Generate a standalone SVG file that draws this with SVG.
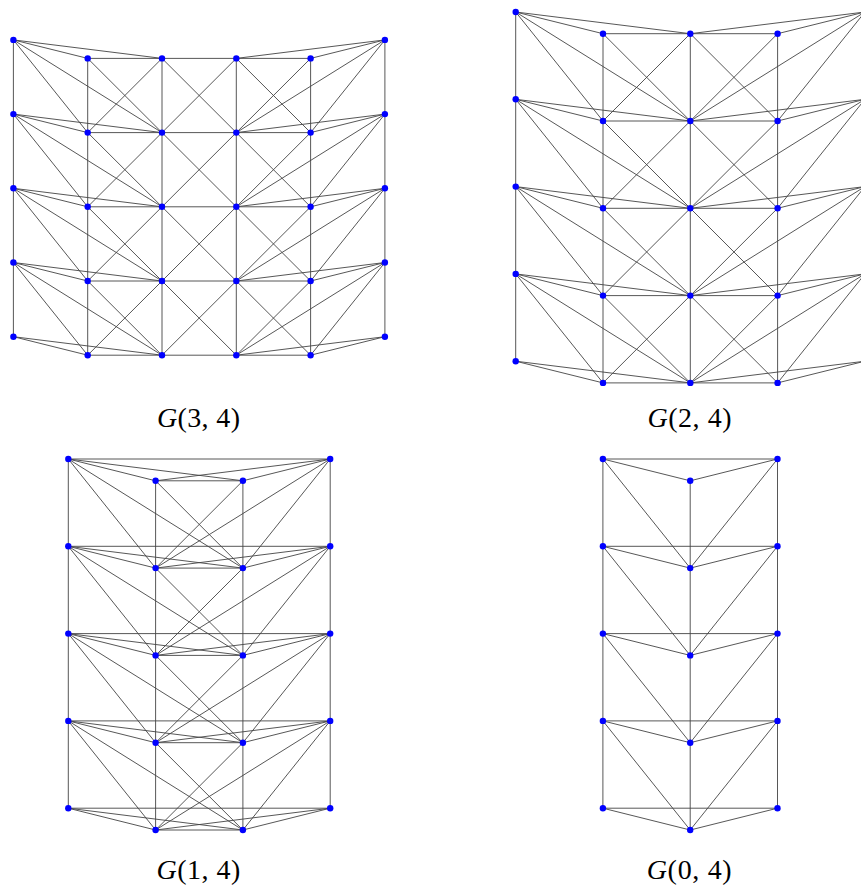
<svg xmlns="http://www.w3.org/2000/svg" width="861" height="891" viewBox="0 0 861 891">
<style>
.e{fill:none;stroke:#444;stroke-width:0.9}
.n circle{fill:#0000ff}
.lbl{font-family:"Liberation Serif","DejaVu Serif",serif;font-size:28px;fill:#000}
.it{font-style:italic}
</style>
<rect width="861" height="891" fill="#fff"/>
<g id="connectors">
<!-- G(3,4) -->
<path class="e" d="M13.4 39.9V336.7M384.9 39.9V336.7
M87.7 58.4V355.2M162 58.4V355.2M236.3 58.4V355.2M310.6 58.4V355.2
M87.7 58.4H310.6M87.7 132.6H310.6M87.7 206.8H310.6M87.7 281H310.6M87.7 355.2H310.6
M87.7 58.4L162 132.6M162 58.4L236.3 132.6M236.3 58.4L310.6 132.6
M87.7 132.6L162 206.8M162 132.6L236.3 206.8M236.3 132.6L310.6 206.8
M87.7 206.8L162 281M162 206.8L236.3 281M236.3 206.8L310.6 281
M87.7 281L162 355.2M162 281L236.3 355.2M236.3 281L310.6 355.2
M162 58.4L87.7 132.6M236.3 58.4L162 132.6M310.6 58.4L236.3 132.6
M162 132.6L87.7 206.8M236.3 132.6L162 206.8M310.6 132.6L236.3 206.8
M162 206.8L87.7 281M236.3 206.8L162 281M310.6 206.8L236.3 281
M162 281L87.7 355.2M236.3 281L162 355.2M310.6 281L236.3 355.2
M13.4 39.9L87.7 58.4M13.4 39.9L162 58.4M13.4 39.9L87.7 132.6M13.4 39.9L162 132.6
M13.4 114.1L87.7 132.6M13.4 114.1L162 132.6M13.4 114.1L87.7 206.8M13.4 114.1L162 206.8
M13.4 188.3L87.7 206.8M13.4 188.3L162 206.8M13.4 188.3L87.7 281M13.4 188.3L162 281
M13.4 262.5L87.7 281M13.4 262.5L162 281M13.4 262.5L87.7 355.2M13.4 262.5L162 355.2
M13.4 336.7L87.7 355.2M13.4 336.7L162 355.2
M384.9 39.9L310.6 58.4M384.9 39.9L236.3 58.4M384.9 39.9L310.6 132.6M384.9 39.9L236.3 132.6
M384.9 114.1L310.6 132.6M384.9 114.1L236.3 132.6M384.9 114.1L310.6 206.8M384.9 114.1L236.3 206.8
M384.9 188.3L310.6 206.8M384.9 188.3L236.3 206.8M384.9 188.3L310.6 281M384.9 188.3L236.3 281
M384.9 262.5L310.6 281M384.9 262.5L236.3 281M384.9 262.5L310.6 355.2M384.9 262.5L236.3 355.2
M384.9 336.7L310.6 355.2M384.9 336.7L236.3 355.2"/>
<!-- G(2,4) -->
<path class="e" d="M515.7 12V361.2M864.9 12V361.2
M603 33.7V382.9M690.3 33.7V382.9M777.6 33.7V382.9
M603 33.7H777.6M603 121H777.6M603 208.3H777.6M603 295.6H777.6M603 382.9H777.6
M603 33.7L690.3 121M690.3 33.7L777.6 121M690.3 33.7L603 121M777.6 33.7L690.3 121
M603 121L690.3 208.3M690.3 121L777.6 208.3M690.3 121L603 208.3M777.6 121L690.3 208.3
M603 208.3L690.3 295.6M690.3 208.3L777.6 295.6M690.3 208.3L603 295.6M777.6 208.3L690.3 295.6
M603 295.6L690.3 382.9M690.3 295.6L777.6 382.9M690.3 295.6L603 382.9M777.6 295.6L690.3 382.9
M515.7 12L603 33.7M515.7 12L690.3 33.7M515.7 12L603 121M515.7 12L690.3 121
M515.7 99.3L603 121M515.7 99.3L690.3 121M515.7 99.3L603 208.3M515.7 99.3L690.3 208.3
M515.7 186.6L603 208.3M515.7 186.6L690.3 208.3M515.7 186.6L603 295.6M515.7 186.6L690.3 295.6
M515.7 273.9L603 295.6M515.7 273.9L690.3 295.6M515.7 273.9L603 382.9M515.7 273.9L690.3 382.9
M515.7 361.2L603 382.9M515.7 361.2L690.3 382.9
M864.9 12L777.6 33.7M864.9 12L690.3 33.7M864.9 12L777.6 121M864.9 12L690.3 121
M864.9 99.3L777.6 121M864.9 99.3L690.3 121M864.9 99.3L777.6 208.3M864.9 99.3L690.3 208.3
M864.9 186.6L777.6 208.3M864.9 186.6L690.3 208.3M864.9 186.6L777.6 295.6M864.9 186.6L690.3 295.6
M864.9 273.9L777.6 295.6M864.9 273.9L690.3 295.6M864.9 273.9L777.6 382.9M864.9 273.9L690.3 382.9
M864.9 361.2L777.6 382.9M864.9 361.2L690.3 382.9"/>
<!-- G(1,4) -->
<path class="e" d="M68.3 459V808.2M330.2 459V808.2
M68.3 459H330.2M68.3 546.3H330.2M68.3 633.6H330.2M68.3 720.9H330.2M68.3 808.2H330.2
M155.6 480.8V830M242.9 480.8V830
M155.6 480.8H242.9M155.6 568.1H242.9M155.6 655.4H242.9M155.6 742.7H242.9M155.6 830H242.9
M155.6 480.8L242.9 568.1M242.9 480.8L155.6 568.1
M155.6 568.1L242.9 655.4M242.9 568.1L155.6 655.4
M155.6 655.4L242.9 742.7M242.9 655.4L155.6 742.7
M155.6 742.7L242.9 830M242.9 742.7L155.6 830
M68.3 459L155.6 480.8M68.3 459L242.9 480.8M68.3 459L155.6 568.1M68.3 459L242.9 568.1
M68.3 546.3L155.6 568.1M68.3 546.3L242.9 568.1M68.3 546.3L155.6 655.4M68.3 546.3L242.9 655.4
M68.3 633.6L155.6 655.4M68.3 633.6L242.9 655.4M68.3 633.6L155.6 742.7M68.3 633.6L242.9 742.7
M68.3 720.9L155.6 742.7M68.3 720.9L242.9 742.7M68.3 720.9L155.6 830M68.3 720.9L242.9 830
M68.3 808.2L155.6 830M68.3 808.2L242.9 830
M330.2 459L242.9 480.8M330.2 459L155.6 480.8M330.2 459L242.9 568.1M330.2 459L155.6 568.1
M330.2 546.3L242.9 568.1M330.2 546.3L155.6 568.1M330.2 546.3L242.9 655.4M330.2 546.3L155.6 655.4
M330.2 633.6L242.9 655.4M330.2 633.6L155.6 655.4M330.2 633.6L242.9 742.7M330.2 633.6L155.6 742.7
M330.2 720.9L242.9 742.7M330.2 720.9L155.6 742.7M330.2 720.9L242.9 830M330.2 720.9L155.6 830
M330.2 808.2L242.9 830M330.2 808.2L155.6 830"/>
<!-- G(0,4) -->
<path class="e" d="M602.9 459V808.2M777.5 459V808.2M690.2 480.8V830
M602.9 459H777.5M602.9 546.3H777.5M602.9 633.6H777.5M602.9 720.9H777.5M602.9 808.2H777.5
M602.9 459L690.2 480.8M602.9 459L690.2 568.1
M602.9 546.3L690.2 568.1M602.9 546.3L690.2 655.4
M602.9 633.6L690.2 655.4M602.9 633.6L690.2 742.7
M602.9 720.9L690.2 742.7M602.9 720.9L690.2 830
M602.9 808.2L690.2 830
M777.5 459L690.2 480.8M777.5 459L690.2 568.1
M777.5 546.3L690.2 568.1M777.5 546.3L690.2 655.4
M777.5 633.6L690.2 655.4M777.5 633.6L690.2 742.7
M777.5 720.9L690.2 742.7M777.5 720.9L690.2 830
M777.5 808.2L690.2 830"/>
</g>
<g id="nodes-G34" class="n">
<g id="g34-L0"><circle cx="13.4" cy="39.9" r="3.2"/></g>
<g id="g34-L1"><circle cx="13.4" cy="114.1" r="3.2"/></g>
<g id="g34-L2"><circle cx="13.4" cy="188.3" r="3.2"/></g>
<g id="g34-L3"><circle cx="13.4" cy="262.5" r="3.2"/></g>
<g id="g34-L4"><circle cx="13.4" cy="336.7" r="3.2"/></g>
<g id="g34-R0"><circle cx="384.9" cy="39.9" r="3.2"/></g>
<g id="g34-R1"><circle cx="384.9" cy="114.1" r="3.2"/></g>
<g id="g34-R2"><circle cx="384.9" cy="188.3" r="3.2"/></g>
<g id="g34-R3"><circle cx="384.9" cy="262.5" r="3.2"/></g>
<g id="g34-R4"><circle cx="384.9" cy="336.7" r="3.2"/></g>
<g id="g34-c1r0"><circle cx="87.7" cy="58.4" r="3.2"/></g>
<g id="g34-c1r1"><circle cx="87.7" cy="132.6" r="3.2"/></g>
<g id="g34-c1r2"><circle cx="87.7" cy="206.8" r="3.2"/></g>
<g id="g34-c1r3"><circle cx="87.7" cy="281" r="3.2"/></g>
<g id="g34-c1r4"><circle cx="87.7" cy="355.2" r="3.2"/></g>
<g id="g34-c2r0"><circle cx="162" cy="58.4" r="3.2"/></g>
<g id="g34-c2r1"><circle cx="162" cy="132.6" r="3.2"/></g>
<g id="g34-c2r2"><circle cx="162" cy="206.8" r="3.2"/></g>
<g id="g34-c2r3"><circle cx="162" cy="281" r="3.2"/></g>
<g id="g34-c2r4"><circle cx="162" cy="355.2" r="3.2"/></g>
<g id="g34-c3r0"><circle cx="236.3" cy="58.4" r="3.2"/></g>
<g id="g34-c3r1"><circle cx="236.3" cy="132.6" r="3.2"/></g>
<g id="g34-c3r2"><circle cx="236.3" cy="206.8" r="3.2"/></g>
<g id="g34-c3r3"><circle cx="236.3" cy="281" r="3.2"/></g>
<g id="g34-c3r4"><circle cx="236.3" cy="355.2" r="3.2"/></g>
<g id="g34-c4r0"><circle cx="310.6" cy="58.4" r="3.2"/></g>
<g id="g34-c4r1"><circle cx="310.6" cy="132.6" r="3.2"/></g>
<g id="g34-c4r2"><circle cx="310.6" cy="206.8" r="3.2"/></g>
<g id="g34-c4r3"><circle cx="310.6" cy="281" r="3.2"/></g>
<g id="g34-c4r4"><circle cx="310.6" cy="355.2" r="3.2"/></g>
</g>
<g id="nodes-G24" class="n">
<g id="g24-L0"><circle cx="515.7" cy="12" r="3.2"/></g>
<g id="g24-L1"><circle cx="515.7" cy="99.3" r="3.2"/></g>
<g id="g24-L2"><circle cx="515.7" cy="186.6" r="3.2"/></g>
<g id="g24-L3"><circle cx="515.7" cy="273.9" r="3.2"/></g>
<g id="g24-L4"><circle cx="515.7" cy="361.2" r="3.2"/></g>
<g id="g24-R0"><circle cx="864.9" cy="12" r="3.2"/></g>
<g id="g24-R1"><circle cx="864.9" cy="99.3" r="3.2"/></g>
<g id="g24-R2"><circle cx="864.9" cy="186.6" r="3.2"/></g>
<g id="g24-R3"><circle cx="864.9" cy="273.9" r="3.2"/></g>
<g id="g24-R4"><circle cx="864.9" cy="361.2" r="3.2"/></g>
<g id="g24-c1r0"><circle cx="603" cy="33.7" r="3.2"/></g>
<g id="g24-c1r1"><circle cx="603" cy="121" r="3.2"/></g>
<g id="g24-c1r2"><circle cx="603" cy="208.3" r="3.2"/></g>
<g id="g24-c1r3"><circle cx="603" cy="295.6" r="3.2"/></g>
<g id="g24-c1r4"><circle cx="603" cy="382.9" r="3.2"/></g>
<g id="g24-c2r0"><circle cx="690.3" cy="33.7" r="3.2"/></g>
<g id="g24-c2r1"><circle cx="690.3" cy="121" r="3.2"/></g>
<g id="g24-c2r2"><circle cx="690.3" cy="208.3" r="3.2"/></g>
<g id="g24-c2r3"><circle cx="690.3" cy="295.6" r="3.2"/></g>
<g id="g24-c2r4"><circle cx="690.3" cy="382.9" r="3.2"/></g>
<g id="g24-c3r0"><circle cx="777.6" cy="33.7" r="3.2"/></g>
<g id="g24-c3r1"><circle cx="777.6" cy="121" r="3.2"/></g>
<g id="g24-c3r2"><circle cx="777.6" cy="208.3" r="3.2"/></g>
<g id="g24-c3r3"><circle cx="777.6" cy="295.6" r="3.2"/></g>
<g id="g24-c3r4"><circle cx="777.6" cy="382.9" r="3.2"/></g>
</g>
<g id="nodes-G14" class="n">
<g id="g14-L0"><circle cx="68.3" cy="459" r="3.2"/></g>
<g id="g14-L1"><circle cx="68.3" cy="546.3" r="3.2"/></g>
<g id="g14-L2"><circle cx="68.3" cy="633.6" r="3.2"/></g>
<g id="g14-L3"><circle cx="68.3" cy="720.9" r="3.2"/></g>
<g id="g14-L4"><circle cx="68.3" cy="808.2" r="3.2"/></g>
<g id="g14-R0"><circle cx="330.2" cy="459" r="3.2"/></g>
<g id="g14-R1"><circle cx="330.2" cy="546.3" r="3.2"/></g>
<g id="g14-R2"><circle cx="330.2" cy="633.6" r="3.2"/></g>
<g id="g14-R3"><circle cx="330.2" cy="720.9" r="3.2"/></g>
<g id="g14-R4"><circle cx="330.2" cy="808.2" r="3.2"/></g>
<g id="g14-c1r0"><circle cx="155.6" cy="480.8" r="3.2"/></g>
<g id="g14-c1r1"><circle cx="155.6" cy="568.1" r="3.2"/></g>
<g id="g14-c1r2"><circle cx="155.6" cy="655.4" r="3.2"/></g>
<g id="g14-c1r3"><circle cx="155.6" cy="742.7" r="3.2"/></g>
<g id="g14-c1r4"><circle cx="155.6" cy="830" r="3.2"/></g>
<g id="g14-c2r0"><circle cx="242.9" cy="480.8" r="3.2"/></g>
<g id="g14-c2r1"><circle cx="242.9" cy="568.1" r="3.2"/></g>
<g id="g14-c2r2"><circle cx="242.9" cy="655.4" r="3.2"/></g>
<g id="g14-c2r3"><circle cx="242.9" cy="742.7" r="3.2"/></g>
<g id="g14-c2r4"><circle cx="242.9" cy="830" r="3.2"/></g>
</g>
<g id="nodes-G04" class="n">
<g id="g04-L0"><circle cx="602.9" cy="459" r="3.2"/></g>
<g id="g04-L1"><circle cx="602.9" cy="546.3" r="3.2"/></g>
<g id="g04-L2"><circle cx="602.9" cy="633.6" r="3.2"/></g>
<g id="g04-L3"><circle cx="602.9" cy="720.9" r="3.2"/></g>
<g id="g04-L4"><circle cx="602.9" cy="808.2" r="3.2"/></g>
<g id="g04-R0"><circle cx="777.5" cy="459" r="3.2"/></g>
<g id="g04-R1"><circle cx="777.5" cy="546.3" r="3.2"/></g>
<g id="g04-R2"><circle cx="777.5" cy="633.6" r="3.2"/></g>
<g id="g04-R3"><circle cx="777.5" cy="720.9" r="3.2"/></g>
<g id="g04-R4"><circle cx="777.5" cy="808.2" r="3.2"/></g>
<g id="g04-c1r0"><circle cx="690.2" cy="480.8" r="3.2"/></g>
<g id="g04-c1r1"><circle cx="690.2" cy="568.1" r="3.2"/></g>
<g id="g04-c1r2"><circle cx="690.2" cy="655.4" r="3.2"/></g>
<g id="g04-c1r3"><circle cx="690.2" cy="742.7" r="3.2"/></g>
<g id="g04-c1r4"><circle cx="690.2" cy="830" r="3.2"/></g>
</g>
<g id="labels">
<text class="lbl" x="198.5" y="427" text-anchor="middle" textLength="83" lengthAdjust="spacing"><tspan class="it">G</tspan>(3, 4)</text>
<text class="lbl" x="689.5" y="427" text-anchor="middle" textLength="84" lengthAdjust="spacing"><tspan class="it">G</tspan>(2, 4)</text>
<text class="lbl" x="198.4" y="878.5" text-anchor="middle" textLength="84" lengthAdjust="spacing"><tspan class="it">G</tspan>(1, 4)</text>
<text class="lbl" x="689.2" y="878.5" text-anchor="middle" textLength="85" lengthAdjust="spacing"><tspan class="it">G</tspan>(0, 4)</text>
</g>
</svg>
